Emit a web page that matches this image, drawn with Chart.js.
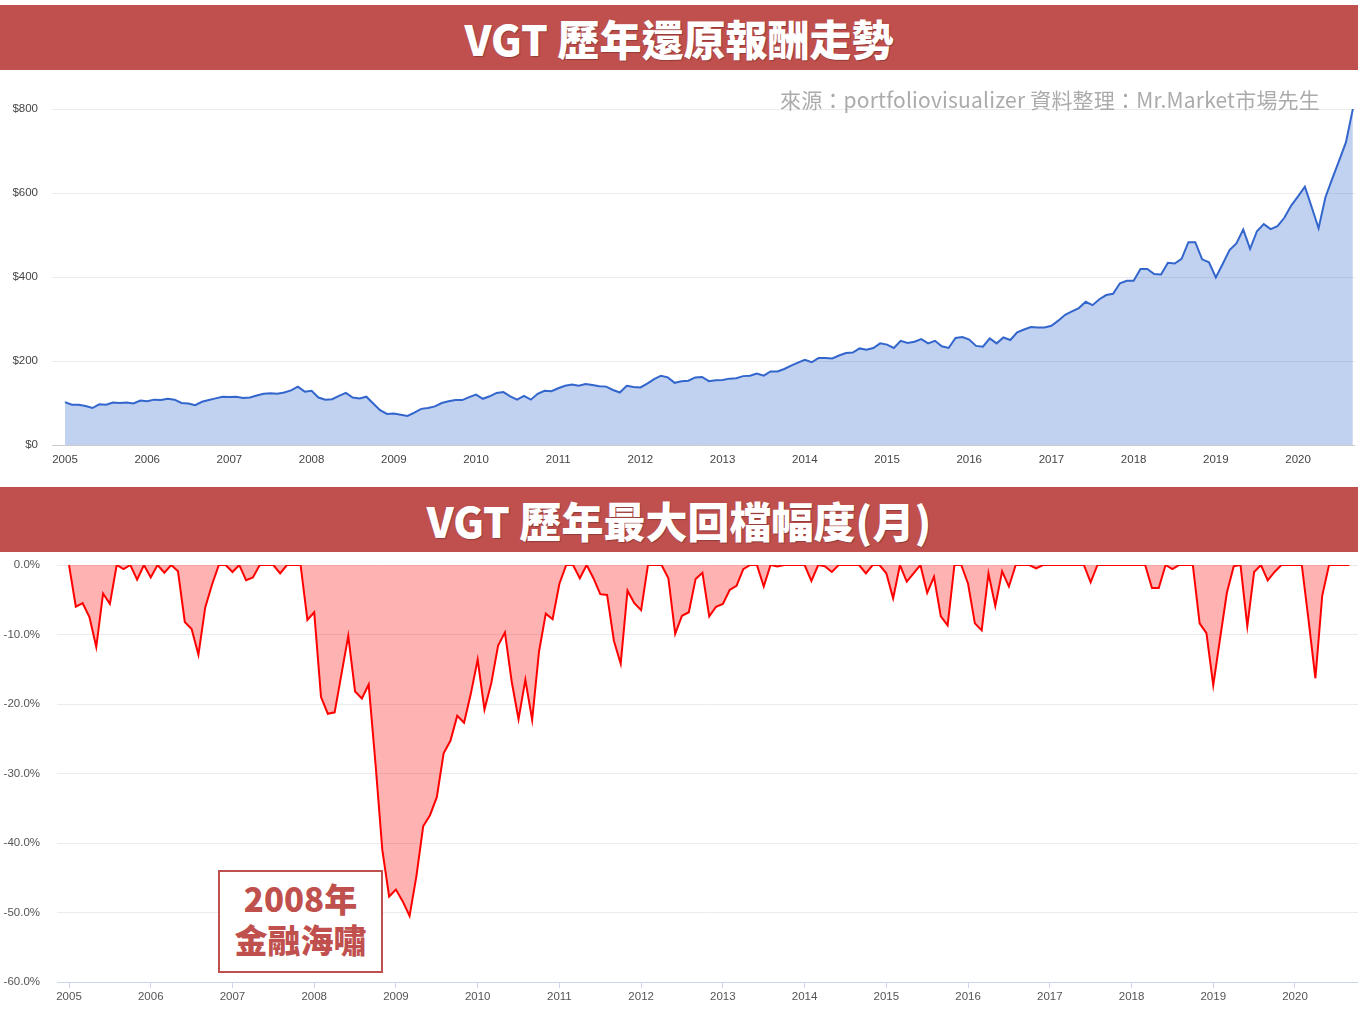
<!DOCTYPE html>
<html>
<head>
<meta charset="utf-8">
<script src="https://cdn.jsdelivr.net/npm/chart.js@4.4.0/dist/chart.umd.min.js"></script>
<style>
  html, body { margin: 0; padding: 0; background: #fff; }
  #page { position: relative; width: 1358px; height: 1011px; overflow: hidden; }
  .banner {
    position: absolute; left: 0; width: 1358px; height: 65px;
    background: #C0504D; color: #fff;
    font-family: "Noto Sans CJK TC", "Noto Sans", sans-serif; font-weight: 900; font-size: 42px;
    display: flex; align-items: center; justify-content: center;
    text-shadow: 1px 1px 1px rgba(0,0,0,0.25);
  }
  canvas { position: absolute; left: 0; }
  .source {
    position: absolute; left: 780px; top: 85px;
    font-family: "Noto Sans CJK TC", sans-serif; font-size: 21px; letter-spacing: 0.2px; color: #ababab;
    white-space: nowrap; line-height: 28px;
  }
  .note {
    position: absolute; left: 218px; top: 870px; width: 161px; height: 93px;
    border: 2px solid #C0504D; color: #C0504D; background: #fff;
    font-family: "Noto Sans CJK TC", sans-serif; font-weight: 900; font-size: 33px;
    text-align: center; line-height: 41px; padding-top: 6px; box-sizing: content-box;
  }
</style>
</head>
<body>
<div id="page">
  <div class="banner" style="top:5px;">VGT 歷年還原報酬走勢</div>
  <canvas id="growthChart" width="1358" height="400" style="top:75px;"></canvas>
  <div class="source">來源：portfoliovisualizer 資料整理：Mr.Market市場先生</div>
  <div class="banner" style="top:487px;">VGT 歷年最大回檔幅度(月)</div>
  <canvas id="drawdownChart" width="1358" height="459" style="top:552px;"></canvas>
  <div class="note">2008年<br>金融海嘯</div>
</div>

<script>
// monthly points, Jan 2005 .. Sep 2020
const startYear = 2005;
const years = [2005, 2006, 2007, 2008, 2009, 2010, 2011, 2012, 2013, 2014, 2015, 2016, 2017, 2018, 2019, 2020];

const growth = [
  102, 96, 96, 93, 88, 97, 96, 101, 100, 101, 99, 106,
  104, 108, 107, 110, 108, 100, 99, 95, 103, 107, 111, 115,
  114, 115, 112, 113, 118, 122, 123, 122, 125, 130, 139, 127,
  129, 113, 108, 109, 117, 124, 113, 111, 115, 99, 83, 74,
  75, 72, 69, 77, 86, 88, 92, 100, 104, 107, 107, 114,
  120, 110, 116, 124, 126, 116, 108, 117, 108, 122, 129, 128,
  135, 141, 144, 141, 145, 143, 140, 139, 131, 125, 141, 138,
  137, 146, 157, 165, 161, 148, 152, 153, 161, 162, 152, 154,
  155, 158, 159, 164, 165, 170, 165, 175, 175, 181, 189, 196,
  203, 197, 207, 207, 206, 213, 219, 220, 230, 227, 231, 242,
  239, 231, 248, 243, 246, 252, 242, 248, 235, 231, 255, 257,
  251, 236, 234, 254, 242, 256, 250, 268, 275, 281, 280, 280,
  284, 296, 310, 318, 326, 341, 333, 347, 357, 360, 385, 391,
  391, 419, 419, 407, 406, 434, 432, 443, 483, 483, 442, 435,
  399, 431, 464, 480, 513, 467, 509, 526, 514, 521, 541, 570,
  592, 615, 566, 516, 590, 634, 677, 721, 800
];

const drawdown = [
  0, -6.0, -5.5, -7.5, -11.8, -4.1, -5.6, 0, -0.6, 0, -2.1, 0,
  -1.8, 0, -1.1, 0, -0.9, -8.2, -9.2, -12.9, -6.1, -2.8, 0, 0,
  -1.0, 0, -2.2, -1.8, 0, 0, 0, -1.2, 0, 0, 0, -7.9,
  -6.8, -19.0, -21.4, -21.2, -15.7, -10.2, -18.2, -19.2, -17.2, -28.6, -41.0, -47.7,
  -46.7, -48.4, -50.5, -44.8, -37.6, -36.0, -33.4, -27.1, -25.3, -21.7, -22.7, -18.5,
  -13.6, -20.8, -17.0, -11.6, -9.7, -16.8, -22.2, -16.5, -22.3, -12.5, -7.0, -7.8,
  -2.7, 0, 0, -1.9, 0, -1.9, -4.2, -4.3, -10.9, -14.2, -3.7, -5.5,
  -6.5, 0, 0, 0, -1.9, -9.9, -7.3, -6.8, -2.0, -1.1, -7.4, -6.0,
  -5.6, -3.6, -3.0, -0.6, 0, 0, -3.1, 0, -0.2, 0, 0, 0,
  0, -2.3, 0, -0.2, -1.0, 0, 0, 0, 0, -1.2, 0, 0,
  -1.2, -4.8, 0, -2.4, -1.2, 0, -4.0, -1.7, -7.4, -8.7, 0, 0,
  -2.7, -8.4, -9.4, -1.2, -5.9, -0.9, -3.1, 0, 0, 0, -0.5, 0,
  0, 0, 0, 0, 0, 0, -2.5, 0, 0, 0, 0, 0,
  0, 0, 0, -3.3, -3.3, 0, -0.6, 0, 0, 0, -8.4, -9.8,
  -17.3, -10.6, -4.0, -0.2, 0, -8.8, -1.0, 0, -2.2, -1.0, 0, 0,
  0, 0, -8.0, -16.3, -4.4, 0, 0, 0, 0
];

const growthTicks = [0, 200, 400, 600, 800];
const drawdownTicks = [0, -10, -20, -30, -40, -50, -60];

// month index -> decimal year on the time axis
const toPoints = arr => arr.map((v, i) => ({ x: startYear + i / 12, y: v }));
const yearTicks = axis => { axis.ticks = years.map(y => ({ value: y })); };
const tickFont = { family: 'Liberation Sans, Arial, sans-serif', size: 11.5 };

new Chart(document.getElementById('growthChart'), {
  type: 'line',
  data: {
    datasets: [{
      data: toPoints(growth),
      borderColor: '#3366CC',
      backgroundColor: 'rgba(51,102,204,0.3)',
      borderWidth: 2,
      fill: 'origin',
      pointRadius: 0,
      tension: 0
    }]
  },
  options: {
    responsive: false,
    animation: false,
    layout: { padding: { top: 34, right: 3, left: 0, bottom: 0 } },
    plugins: { legend: { display: false }, tooltip: { enabled: false } },
    scales: {
      x: {
        type: 'linear', min: 2004.842, max: 2020.693,
        afterBuildTicks: yearTicks,
        afterFit: axis => { axis.height = 30; },
        grid: { display: false },
        border: { display: false },
        ticks: { color: '#444', font: tickFont, padding: 0, maxRotation: 0, callback: v => String(v) }
      },
      y: {
        min: 0, max: 800,
        afterBuildTicks: axis => { axis.ticks = growthTicks.map(v => ({ value: v })); },
        afterFit: axis => { axis.width = 52; axis.paddingTop = 7; axis.paddingBottom = 7; },
        grid: { color: ctx => ctx.tick && ctx.tick.value === 0 ? '#cccccc' : '#ebebeb', drawTicks: false },
        border: { display: false },
        ticks: { color: '#444', font: tickFont, padding: 14, callback: v => '$' + v }
      }
    }
  }
});

new Chart(document.getElementById('drawdownChart'), {
  type: 'line',
  data: {
    datasets: [{
      data: toPoints(drawdown),
      borderColor: '#FF0000',
      backgroundColor: 'rgba(255,0,0,0.3)',
      borderWidth: 2,
      fill: 'origin',
      pointRadius: 0,
      tension: 0
    }]
  },
  options: {
    responsive: false,
    animation: false,
    layout: { padding: { top: 13, right: 0, left: 0, bottom: 0 } },
    plugins: { legend: { display: false }, tooltip: { enabled: false } },
    scales: {
      x: {
        type: 'linear', min: 2004.853, max: 2020.771,
        afterBuildTicks: yearTicks,
        afterFit: axis => { axis.height = 29; },
        grid: { drawOnChartArea: false, drawTicks: true, tickLength: 6, color: '#ccd6eb' },
        border: { display: true, color: '#ccd6eb' },
        ticks: { color: '#555', font: tickFont, padding: 2, maxRotation: 0, callback: v => String(v) }
      },
      y: {
        min: -60, max: 0,
        afterBuildTicks: axis => { axis.ticks = drawdownTicks.map(v => ({ value: v })); },
        afterFit: axis => { axis.width = 57; axis.paddingTop = 7; axis.paddingBottom = 7; },
        grid: { color: '#ebebeb', drawTicks: false },
        border: { display: false },
        ticks: { color: '#555', font: tickFont, padding: 17, callback: v => v.toFixed(1) + '%' }
      }
    }
  }
});
</script>
</body>
</html>
